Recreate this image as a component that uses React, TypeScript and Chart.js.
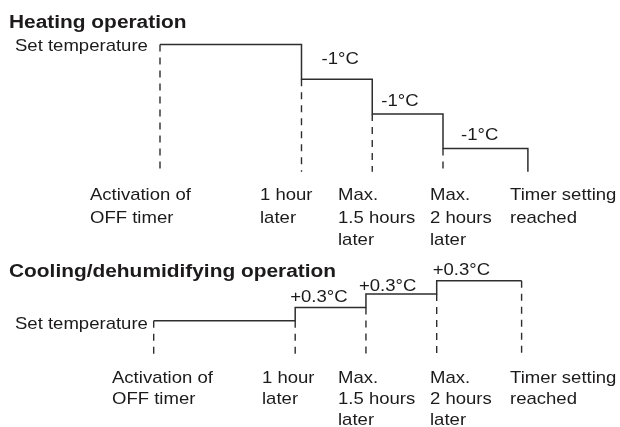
import React, { useEffect, useRef } from 'react';
import { Chart, registerables } from 'chart.js';

Chart.register(...registerables);

// ---------- data ----------
const heatTitle = 'Heating operation';
const coolTitle = 'Cooling/dehumidifying operation';
const setTempLabel = 'Set temperature';

// event times (hours, schematic) and the temperature offset (°C) held from each event
const heatTimes = [0, 1, 1.5, 2, 2.6];
const heatLevels = [0, -1, -2, -3];
const heatDeltaLabels = ['-1°C', '-1°C', '-1°C'];

const coolTimes = [0, 1, 1.5, 2, 2.6];
const coolLevels = [0, 0.3, 0.6, 0.9];
const coolDeltaLabels = ['+0.3°C', '+0.3°C', '+0.3°C'];

const eventLabels = [
  ['Activation of', 'OFF timer'],
  ['1 hour', 'later'],
  ['Max.', '1.5 hours', 'later'],
  ['Max.', '2 hours', 'later'],
  ['Timer setting', 'reached'],
];

// ---------- layout / style ----------
const LINE = '#2e2e2e';
const TEXT = '#1c1a1b';
const FONT = '"Liberation Sans", Arial, Helvetica, sans-serif';
const TXT_SIZE = 17;
const TXT_SX = 1.09;
const TITLE_SIZE = 18;
const TITLE_SX = 1.16;

const PANELS = {
  heat: {
    x: 'xh', y: 'yh',
    xMin: -1.1307, xMax: 3.2509,
    yMin: -11.023, yMax: 1.282,
    floor: -3.67,
    endSolid: true,
    titleX: 9, titleY: 28.3,
    setTempX: 15, setTempDy: 6.8,
    labelX: [90, 260, 338, 430, 510],
    labelDy: 28.2, lineH: 22.5,
    deltaDx: [20, 9, 18], deltaDy: [-15, -8, -9],
  },
  cool: {
    x: 'xc', y: 'yc',
    xMin: -1.0862, xMax: 3.2954,
    yMin: -2.4, yMax: 7.239,
    floor: -0.77,
    endSolid: false,
    titleX: 9, titleY: 276.7,
    setTempX: 15, setTempDy: 8,
    labelX: [112, 262, 338, 430, 510],
    labelDy: 28.7, lineH: 21,
    deltaDx: [-5, -7, -4], deltaDy: [-5, -3, -6],
  },
};

function stepPoints(times: number[], levels: number[], floor: number, endSolid: boolean) {
  const pts = levels.map((v, i) => ({ x: times[i], y: v }));
  const last = times[times.length - 1];
  pts.push({ x: last, y: levels[levels.length - 1] });
  if (endSolid) pts.push({ x: last, y: floor });
  return pts;
}

function dashedSets(times: number[], levels: number[], floor: number, endSolid: boolean, xID: string, yID: string) {
  const sets: any[] = [];
  times.forEach((t, i) => {
    const isEnd = i === times.length - 1;
    if (isEnd && endSolid) return;
    let top: number;
    if (isEnd) top = levels[levels.length - 1];
    else if (i === 0) top = levels[0];
    else top = Math.min(levels[i - 1], levels[i]);
    sets.push({
      data: [{ x: t, y: top }, { x: t, y: floor }],
      xAxisID: xID, yAxisID: yID,
      borderColor: LINE, borderWidth: 1.4, borderDash: [7, 6],
      pointRadius: 0, fill: false, tension: 0,
    });
  });
  return sets;
}

function drawStretched(ctx: CanvasRenderingContext2D, text: string, x: number, y: number, font: string, sx: number) {
  ctx.save();
  ctx.translate(x, y);
  ctx.scale(sx, 1);
  ctx.font = font;
  ctx.fillStyle = TEXT;
  ctx.textAlign = 'left';
  ctx.textBaseline = 'alphabetic';
  ctx.fillText(text, 0, 0);
  ctx.restore();
}

const textPlugin = {
  id: 'diagramText',
  afterDatasetsDraw(chart: any) {
    const ctx = chart.ctx as CanvasRenderingContext2D;
    const txtFont = `${TXT_SIZE}px ${FONT}`;
    const titleFont = `bold ${TITLE_SIZE}px ${FONT}`;
    const panels = [
      { p: PANELS.heat, title: heatTitle, times: heatTimes, levels: heatLevels, deltas: heatDeltaLabels },
      { p: PANELS.cool, title: coolTitle, times: coolTimes, levels: coolLevels, deltas: coolDeltaLabels },
    ];
    panels.forEach(({ p, title, times, levels, deltas }) => {
      const xs = chart.scales[p.x];
      const ys = chart.scales[p.y];
      drawStretched(ctx, title, p.titleX, p.titleY, titleFont, TITLE_SX);
      drawStretched(ctx, setTempLabel, p.setTempX, ys.getPixelForValue(levels[0]) + p.setTempDy, txtFont, TXT_SX);
      deltas.forEach((lab, k) => {
        const i = k + 1;
        const px = xs.getPixelForValue(times[i]) + p.deltaDx[k];
        const py = ys.getPixelForValue(levels[i]) + p.deltaDy[k];
        drawStretched(ctx, lab, px, py, txtFont, TXT_SX);
      });
      const base = ys.getPixelForValue(p.floor) + p.labelDy;
      eventLabels.forEach((lines, i) => {
        lines.forEach((ln, j) => {
          drawStretched(ctx, ln, p.labelX[i], base + j * p.lineH, txtFont, TXT_SX);
        });
      });
    });
  },
};

export default function App() {
  const ref = useRef<HTMLCanvasElement | null>(null);
  useEffect(() => {
    if (!ref.current) return;
    const h = PANELS.heat;
    const c = PANELS.cool;
    const datasets: any[] = [
      {
        data: stepPoints(heatTimes, heatLevels, h.floor, h.endSolid),
        xAxisID: h.x, yAxisID: h.y, stepped: true,
        borderColor: LINE, borderWidth: 1.5, pointRadius: 0, fill: false,
      },
      {
        data: stepPoints(coolTimes, coolLevels, c.floor, c.endSolid),
        xAxisID: c.x, yAxisID: c.y, stepped: true,
        borderColor: LINE, borderWidth: 1.5, pointRadius: 0, fill: false,
      },
      ...dashedSets(heatTimes, heatLevels, h.floor, h.endSolid, h.x, h.y),
      ...dashedSets(coolTimes, coolLevels, c.floor, c.endSolid, c.x, c.y),
    ];
    const chart = new Chart(ref.current, {
      type: 'line',
      data: { datasets },
      options: {
        animation: false,
        responsive: true,
        maintainAspectRatio: false,
        events: [],
        layout: { padding: 0 },
        plugins: { legend: { display: false }, tooltip: { enabled: false }, title: { display: false } },
        scales: {
          xh: { type: 'linear', display: false, min: h.xMin, max: h.xMax },
          yh: { type: 'linear', display: false, min: h.yMin, max: h.yMax },
          xc: { type: 'linear', display: false, min: c.xMin, max: c.xMax },
          yc: { type: 'linear', display: false, min: c.yMin, max: c.yMax },
        },
      },
      plugins: [textPlugin],
    } as any);
    return () => chart.destroy();
  }, []);
  return (
    <div style={{ position: 'fixed', left: 0, top: 0, width: 620, height: 427, background: '#ffffff' }}>
      <canvas ref={ref} />
    </div>
  );
}
